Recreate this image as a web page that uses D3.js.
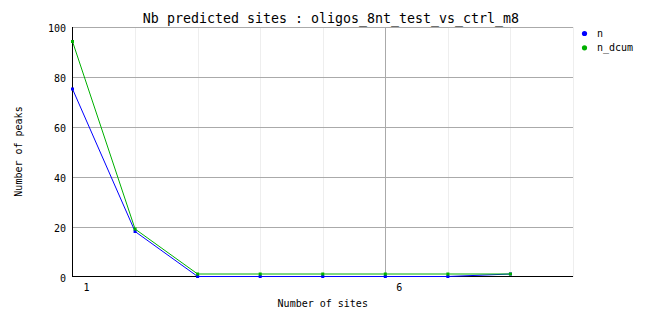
<!DOCTYPE html>
<html>
<head>
<meta charset="utf-8">
<script src="https://cdn.jsdelivr.net/npm/d3@7"></script>
<style>
    body { margin: 0; background: #fff; }
    text { font-family: "DejaVu Sans Mono", monospace; fill: #000; }
</style>
</head>
<body>
<svg id="chart"></svg>
<script>
const sites = [1, 2, 3, 4, 5, 6, 7, 8];
const nValues = [75, 18, 0, 0, 0, 0, 0, 1];
const nDcumValues = [94, 19, 1, 1, 1, 1, 1, 1];
const xTickLabels = [1, 6];
const yTicks = [0, 20, 40, 60, 80, 100];
const seriesNames = ["n", "n_dcum"];
const seriesColors = ["#0000ff", "#00b000"];

document.addEventListener("DOMContentLoaded", drawChart);

function drawChart() {
    const width = 662;
    const height = 328;
    const left = 72.5, right = 573, top = 26.5, bottom = 276.5;

    const svg = d3.select("svg#chart")
        .attr("width", width)
        .attr("height", height);

    const x = d3.scaleLinear().domain([1, 9]).range([left, right]);
    const y = d3.scaleLinear().domain([0, 100]).range([bottom, top]);

    // Сетка: светлые вертикальные линии
    svg.append("g")
        .attr("shape-rendering", "crispEdges")
        .selectAll("line")
        .data(d3.range(2, 10).filter(d => d !== 6))
        .join("line")
        .attr("x1", d => Math.round(x(d)) + 0.5)
        .attr("x2", d => Math.round(x(d)) + 0.5)
        .attr("y1", top)
        .attr("y2", bottom)
        .attr("stroke", "#eeeeee");

    // Основная вертикальная линия сетки
    svg.append("line")
        .attr("shape-rendering", "crispEdges")
        .attr("x1", Math.round(x(6)) + 0.5)
        .attr("x2", Math.round(x(6)) + 0.5)
        .attr("y1", top)
        .attr("y2", bottom)
        .attr("stroke", "#aaaaaa");

    // Горизонтальная сетка
    svg.append("g")
        .attr("shape-rendering", "crispEdges")
        .selectAll("line")
        .data(yTicks.filter(d => d > 0))
        .join("line")
        .attr("x1", left)
        .attr("x2", right)
        .attr("y1", d => Math.round(y(d)) + 0.5)
        .attr("y2", d => Math.round(y(d)) + 0.5)
        .attr("stroke", "#aaaaaa");

    // Оси
    svg.append("line")
        .attr("shape-rendering", "crispEdges")
        .attr("x1", left).attr("x2", left)
        .attr("y1", top).attr("y2", bottom + 0.5)
        .attr("stroke", "#000");
    svg.append("line")
        .attr("shape-rendering", "crispEdges")
        .attr("x1", left).attr("x2", right)
        .attr("y1", bottom).attr("y2", bottom)
        .attr("stroke", "#000");

    // Подписи оси Y
    svg.append("g")
        .selectAll("text")
        .data(yTicks)
        .join("text")
        .attr("x", 66)
        .attr("y", d => y(d) + 5.5)
        .attr("text-anchor", "end")
        .attr("font-size", 10)
        .text(d => d);

    // Подписи оси X
    svg.append("g")
        .selectAll("text")
        .data(xTickLabels)
        .join("text")
        .attr("x", d => x(d) + 14)
        .attr("y", 291)
        .attr("text-anchor", "middle")
        .attr("font-size", 10)
        .text(d => d);

    // Заголовки
    svg.append("text")
        .attr("x", 331)
        .attr("y", 23)
        .attr("text-anchor", "middle")
        .attr("font-size", 13.3)
        .text("Nb predicted sites : oligos_8nt_test_vs_ctrl_m8");

    svg.append("text")
        .attr("x", (left + right) / 2)
        .attr("y", 307)
        .attr("text-anchor", "middle")
        .attr("font-size", 10)
        .text("Number of sites");

    svg.append("text")
        .attr("transform", `translate(22,${(top + bottom) / 2}) rotate(-90)`)
        .attr("text-anchor", "middle")
        .attr("font-size", 10)
        .text("Number of peaks");

    // Линии данных
    const series = [nValues, nDcumValues];
    const line = d3.line()
        .x((d, i) => x(sites[i]))
        .y(d => y(d));

    series.forEach((values, k) => {
        svg.append("path")
            .datum(values)
            .attr("fill", "none")
            .attr("stroke", seriesColors[k])
            .attr("stroke-width", 1)
            .attr("d", line);

        svg.append("g")
            .selectAll("rect")
            .data(values)
            .join("rect")
            .attr("x", (d, i) => x(sites[i]) - 1.5)
            .attr("y", d => y(d) - 1.5)
            .attr("width", 3)
            .attr("height", 3)
            .attr("fill", seriesColors[k]);
    });

    // Легенда
    const legend = svg.append("g");
    seriesNames.forEach((name, k) => {
        const ly = 33.5 + k * 14.3;
        legend.append("circle")
            .attr("cx", 584.5)
            .attr("cy", ly)
            .attr("r", 2.6)
            .attr("fill", seriesColors[k]);
        legend.append("text")
            .attr("x", 597)
            .attr("y", ly + 3.5)
            .attr("font-size", 10)
            .text(name);
    });
}
</script>
</body>
</html>
